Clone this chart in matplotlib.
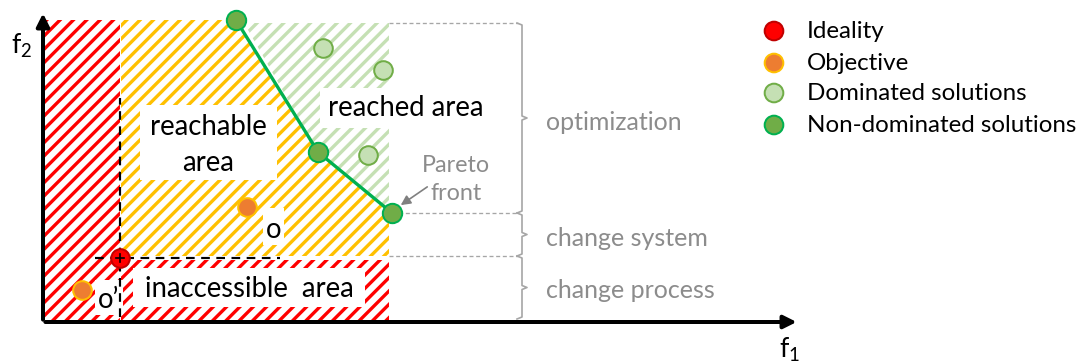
import matplotlib.pyplot as plt
from matplotlib.patches import Polygon, Rectangle

plt.rcParams['font.family'] = ['Lato', 'DejaVu Sans']
plt.rcParams['hatch.linewidth'] = 2.0

# diagram coordinates: f1 to the right, f2 upward, origin at the axes corner
ideal = (77, 64)
objective = (204, 115)
objective_prime = (39, 32)
pareto_f1 = [193, 275, 349]
pareto_f2 = [302, 170, 109]
dominated_f1 = [280, 340, 325]
dominated_f2 = [274, 252, 167]

region_right = 346
region_top = 302
reached_top = 299

bracket_names = ['optimization', 'change system', 'change process']
bracket_top = [299, 109, 66]
bracket_bottom = [109, 66, 3]
bracket_label_f2 = [200, 84, 32]

legend_labels = ['Ideality', 'Objective', 'Dominated solutions', 'Non-dominated solutions']
legend_f2 = [291, 259, 229, 197]

RED = '#FF0000'
YELLOW = '#FFC000'
LIGHTGREEN = '#C5E0B4'
GREEN = '#70AD47'
DARKGREEN = '#00B050'
ORANGE = '#ED7D31'
GRAY = '#8C8C8C'

fig = plt.figure(figsize=(1082 / 120, 362 / 120), dpi=120)
ax = fig.add_axes([0, 0, 1, 1])
ax.set_xlim(-43, 1039)
ax.set_ylim(-40, 322)
ax.axis('off')

# hatched areas
ax.add_patch(Rectangle((2, 0), ideal[0] - 2, region_top, facecolor='white',
                       edgecolor=RED, hatch='///', lw=0))
ax.add_patch(Rectangle((ideal[0] + 1, 0), region_right - ideal[0] - 1, ideal[1] - 2,
                       facecolor='white', edgecolor=RED, hatch='///', lw=0))
yellow = [(ideal[0] + 1, region_top), (pareto_f1[0], region_top),
          (pareto_f1[1], pareto_f2[1]), (region_right, pareto_f2[2] + 3),
          (region_right, ideal[1] + 2), (ideal[0] + 1, ideal[1] + 2)]
ax.add_patch(Polygon(yellow, facecolor='white', edgecolor=YELLOW, hatch='///', lw=0))
green = [(pareto_f1[0] + 8, reached_top), (region_right, reached_top),
         (region_right, pareto_f2[2] + 3), (pareto_f1[1], pareto_f2[1])]
ax.add_patch(Polygon(green, facecolor='white', edgecolor=LIGHTGREEN, hatch='///', lw=0))

# white label boxes
boxes = [(97, 142, 137, 75), (277, 194, 180, 40), (220, 77, 21, 37),
         (52, 7, 28, 35), (90, 15, 232, 39)]
for x0, y0, w, h in boxes:
    ax.add_patch(Rectangle((x0, y0), w, h, facecolor='white', lw=0))

# dashed guides through the ideal point
ax.plot([ideal[0], ideal[0]], [5, 224], color='black', ls=(0, (4, 3)), lw=1.3)
ax.plot([52, 237], [ideal[1], ideal[1]], color='black', ls=(0, (4, 3)), lw=1.3)

# gray dashed guides toward the brackets
ax.plot([region_right, 475], [reached_top, reached_top], color='#A6A6A6', ls=(0, (3, 2)), lw=0.8)
ax.plot([pareto_f1[2], 475], [pareto_f2[2], pareto_f2[2]], color='#A6A6A6', ls=(0, (3, 2)), lw=0.8)
ax.plot([region_right, 475], [ideal[1] + 2, ideal[1] + 2], color='#A6A6A6', ls=(0, (3, 2)), lw=0.8)

# brackets
for name, top, bot, ly in zip(bracket_names, bracket_top, bracket_bottom, bracket_label_f2):
    mid = (top + bot) / 2 if name != 'optimization' else ly + 4
    ax.plot([474, 479, 479, 484, 479, 479, 474],
            [top, top - 2, mid + 2, mid, mid - 2, bot + 2, bot],
            color='#A6A6A6', lw=1)
    ax.text(503, ly, name, color=GRAY, fontsize=15, va='center', ha='left')

# axes arrows
ax.annotate('', xy=(0, 312), xytext=(0, -1),
            arrowprops=dict(arrowstyle='-|>', color='black', lw=2.4, mutation_scale=16))
ax.annotate('', xy=(757, 0), xytext=(-1, 0),
            arrowprops=dict(arrowstyle='-|>', color='black', lw=2.4, mutation_scale=16))
ax.text(-21, 276, r'$\mathregular{f_2}$', fontsize=16, ha='center', va='center')
ax.text(747, -28, r'$\mathregular{f_1}$', fontsize=16, ha='center', va='center')

# pareto front and points
ax.plot(pareto_f1, pareto_f2, color=DARKGREEN, lw=2, zorder=3)
ax.scatter(dominated_f1, dominated_f2, s=125, color=LIGHTGREEN, edgecolor=GREEN, lw=1.2, zorder=4)
ax.scatter(pareto_f1, pareto_f2, s=135, color=GREEN, edgecolor=DARKGREEN, lw=1.2, zorder=4)
ax.scatter([objective[0], objective_prime[0]], [objective[1], objective_prime[1]],
           s=125, color=ORANGE, edgecolor=YELLOW, lw=1.2, zorder=4)
ax.scatter([ideal[0]], [ideal[1]], s=125, color=RED, edgecolor='#C00000', lw=1.2, zorder=4)
ax.plot([ideal[0] - 4, ideal[0] + 4], [ideal[1], ideal[1]], color='black', lw=1, zorder=5)
ax.plot([ideal[0], ideal[0]], [ideal[1] - 4, ideal[1] + 4], color='black', lw=1, zorder=5)

# area labels
ax.text(165, 195, 'reachable', fontsize=16.5, ha='center', va='center')
ax.text(165, 159, 'area', fontsize=16.5, ha='center', va='center')
ax.text(363, 214, 'reached area', fontsize=16.5, ha='center', va='center')
ax.text(231, 92, 'o', fontsize=16.5, ha='center', va='center')
ax.text(66, 22, 'o\u2019', fontsize=16.5, ha='center', va='center')
ax.text(206, 33, 'inaccessible  area', fontsize=16.5, ha='center', va='center')
ax.text(413, 157, 'Pareto', color=GRAY, fontsize=14, ha='center', va='center')
ax.text(413, 129, 'front', color=GRAY, fontsize=14, ha='center', va='center')
ax.annotate('', xy=(355, 115), xytext=(387, 137),
            arrowprops=dict(arrowstyle='-|>', color='#808080', lw=1, mutation_scale=12))

# legend
legend_fill = [RED, ORANGE, LIGHTGREEN, GREEN]
legend_edge = ['#C00000', YELLOW, GREEN, DARKGREEN]
ax.scatter([731] * 4, legend_f2, s=125, color=legend_fill, edgecolor=legend_edge, lw=1.2)
for label, y in zip(legend_labels, legend_f2):
    ax.text(764, y, label, fontsize=14.5, ha='left', va='center')

fig.savefig('out.png', dpi=120)
